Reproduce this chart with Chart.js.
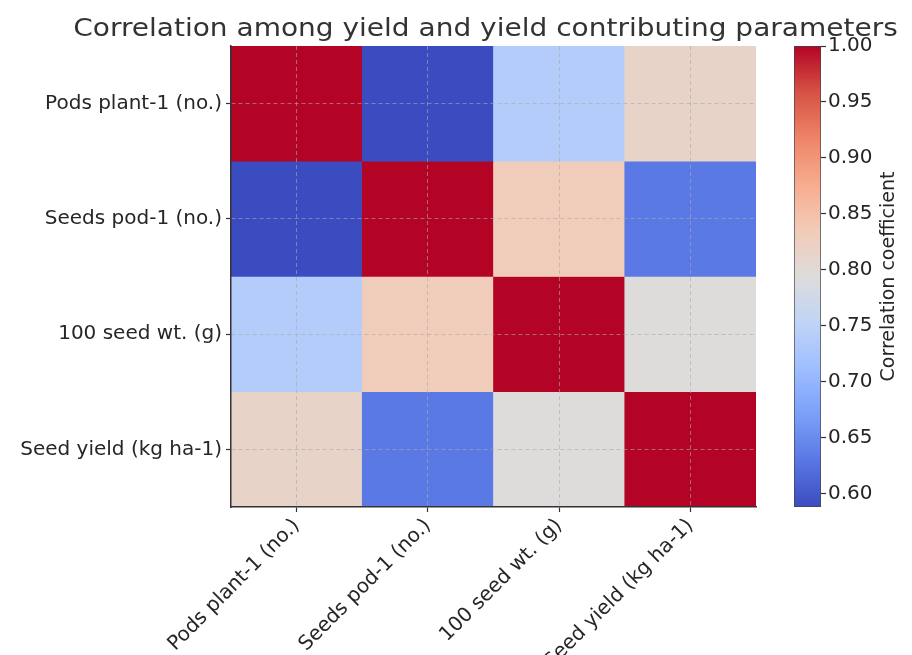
<!DOCTYPE html>
<html>
<head>
<meta charset="utf-8">
<script src="https://cdn.jsdelivr.net/npm/chart.js@4.4.1/dist/chart.umd.min.js"></script>
<style>
  html, body { margin: 0; padding: 0; background: #ffffff; }
  #wrap { position: relative; width: 912px; height: 655px; }
  #main { position: absolute; left: 0; top: 0; }
  #cbar { position: absolute; left: 780px; top: 0; }
</style>
</head>
<body>
<div id="wrap">
  <canvas id="main" width="912" height="655"></canvas>
  <canvas id="cbar" width="132" height="655"></canvas>
</div>
<script>
// ---- data ----
const titleText = 'Correlation among yield and yield contributing parameters';
const variables = ['Pods plant-1 (no.)', 'Seeds pod-1 (no.)', '100 seed wt. (g)', 'Seed yield (kg ha-1)'];
const rowPods  = [1.000, 0.588, 0.737, 0.815];
const rowSeeds = [0.588, 1.000, 0.831, 0.631];
const rowWt    = [0.737, 0.831, 1.000, 0.795];
const rowYield = [0.815, 0.631, 0.795, 1.000];
const matrix = [rowPods, rowSeeds, rowWt, rowYield];
const colorbarTicks = [0.60, 0.65, 0.70, 0.75, 0.80, 0.85, 0.90, 0.95, 1.00];
const colorbarLabel = 'Correlation coefficient';
const vmin = 0.588, vmax = 1.0;

// coolwarm colormap stops
const coolwarm = ['#3b4cc0', '#5977e3', '#7b9ff9', '#9ebeff', '#c0d4f5', '#dddcdc', '#f2cbb7', '#f7ac8e', '#ee8468', '#d65244', '#b40426'];
function hexToRgb(h) { return [parseInt(h.slice(1,3),16), parseInt(h.slice(3,5),16), parseInt(h.slice(5,7),16)]; }
const cwRgb = coolwarm.map(hexToRgb);
function cmap(v) {
  let t = (v - vmin) / (vmax - vmin);
  t = Math.max(0, Math.min(1, t));
  const pos = t * (cwRgb.length - 1);
  const i = Math.min(Math.floor(pos), cwRgb.length - 2);
  const f = pos - i;
  const a = cwRgb[i], b = cwRgb[i + 1];
  const c = a.map((x, k) => Math.round(x + (b[k] - x) * f));
  return `rgb(${c[0]},${c[1]},${c[2]})`;
}

const FONT = "'DejaVu Sans', sans-serif";
const TXT = '#262626';
const n = variables.length;

// one floating-bar dataset per matrix row (top row first)
const datasets = matrix.map((row, i) => ({
  data: row.map(() => [n - 1 - i, n - i]),
  backgroundColor: row.map(v => cmap(v)),
  borderWidth: 0,
  grouped: false,
  barPercentage: 1.0,
  categoryPercentage: 1.0
}));

const gridCommon = {
  color: 'rgba(170,170,170,0.6)',
  lineWidth: 1,
  offset: false,
  tickLength: 5,
  tickColor: '#333333',
  tickWidth: 1.2,
  z: 1
};

const titlePlugin = {
  id: 'topTitle',
  afterDraw(chart) {
    const ctx = chart.ctx;
    const ca = chart.chartArea;
    ctx.save();
    ctx.translate((ca.left + ca.right) / 2 - 8, 29);
    ctx.scale(1.12, 1);
    ctx.font = `25px ${FONT}`;
    ctx.fillStyle = '#333333';
    ctx.textAlign = 'center';
    ctx.textBaseline = 'middle';
    ctx.fillText(titleText, 0, 0);
    ctx.restore();
  }
};

new Chart(document.getElementById('main'), {
  type: 'bar',
  data: { labels: variables, datasets },
  options: {
    responsive: false,
    animation: false,
    events: [],
    layout: { padding: { left: 0, right: 156, top: 46, bottom: 0 } },
    plugins: {
      legend: { display: false },
      tooltip: { enabled: false },
      title: { display: false }
    },
    scales: {
      x: {
        type: 'category',
        offset: true,
        grid: gridCommon,
        border: { display: true, color: '#333333', width: 1.5, dash: [4, 3], z: 1 },
        ticks: {
          font: { family: FONT, size: 20 },
          color: TXT,
          autoSkip: false,
          maxRotation: 45,
          minRotation: 45,
          padding: 2
        },
        afterFit: s => { s.height = 148; }
      },
      y: {
        type: 'linear',
        min: 0,
        max: n,
        grid: gridCommon,
        border: { display: true, color: '#333333', width: 1.5, dash: [4, 3], z: 1 },
        afterBuildTicks: s => { s.ticks = variables.map((_, i) => ({ value: n - 1 - i + 0.5 })); },
        ticks: {
          font: { family: FONT, size: 20 },
          color: TXT,
          padding: 4,
          callback: v => variables[n - 1 - Math.floor(v)]
        },
        afterFit: s => { s.width = 231; }
      }
    }
  },
  plugins: [titlePlugin]
});

// ---- colorbar ----
const cbTitlePlugin = {
  id: 'cbTitle',
  afterDraw(chart) {
    const ctx = chart.ctx;
    const ca = chart.chartArea;
    ctx.save();
    ctx.translate(109, (ca.top + ca.bottom) / 2);
    ctx.rotate(-Math.PI / 2);
    ctx.font = `19px ${FONT}`;
    ctx.fillStyle = TXT;
    ctx.textAlign = 'center';
    ctx.textBaseline = 'middle';
    ctx.fillText(colorbarLabel, 0, 0);
    ctx.restore();
  }
};

new Chart(document.getElementById('cbar'), {
  type: 'bar',
  data: {
    labels: ['cb'],
    datasets: [{
      data: [[vmin, vmax]],
      backgroundColor: c => {
        const ch = c.chart, ca = ch.chartArea;
        if (!ca) return 'rgba(0,0,0,0)';
        const g = ch.ctx.createLinearGradient(0, ca.bottom, 0, ca.top);
        coolwarm.forEach((col, i) => g.addColorStop(i / (coolwarm.length - 1), col));
        return g;
      },
      borderColor: '#444444',
      borderWidth: 1,
      borderSkipped: false,
      barPercentage: 1.0,
      categoryPercentage: 1.0
    }]
  },
  options: {
    responsive: false,
    animation: false,
    events: [],
    layout: { padding: { left: 14, right: 0, top: 46, bottom: 148 } },
    plugins: { legend: { display: false }, tooltip: { enabled: false }, title: { display: false } },
    scales: {
      x: { display: false },
      y: {
        type: 'linear',
        position: 'right',
        min: vmin,
        max: vmax,
        afterBuildTicks: s => { s.ticks = colorbarTicks.map(v => ({ value: v })); },
        grid: { drawOnChartArea: false, tickLength: 5, tickColor: '#333333', tickWidth: 1.2 },
        border: { display: false },
        ticks: {
          font: { family: FONT, size: 20 },
          color: TXT,
          padding: 2,
          callback: v => v.toFixed(2)
        },
        afterFit: s => { s.width = 91; }
      }
    }
  },
  plugins: [cbTitlePlugin]
});
</script>
</body>
</html>
